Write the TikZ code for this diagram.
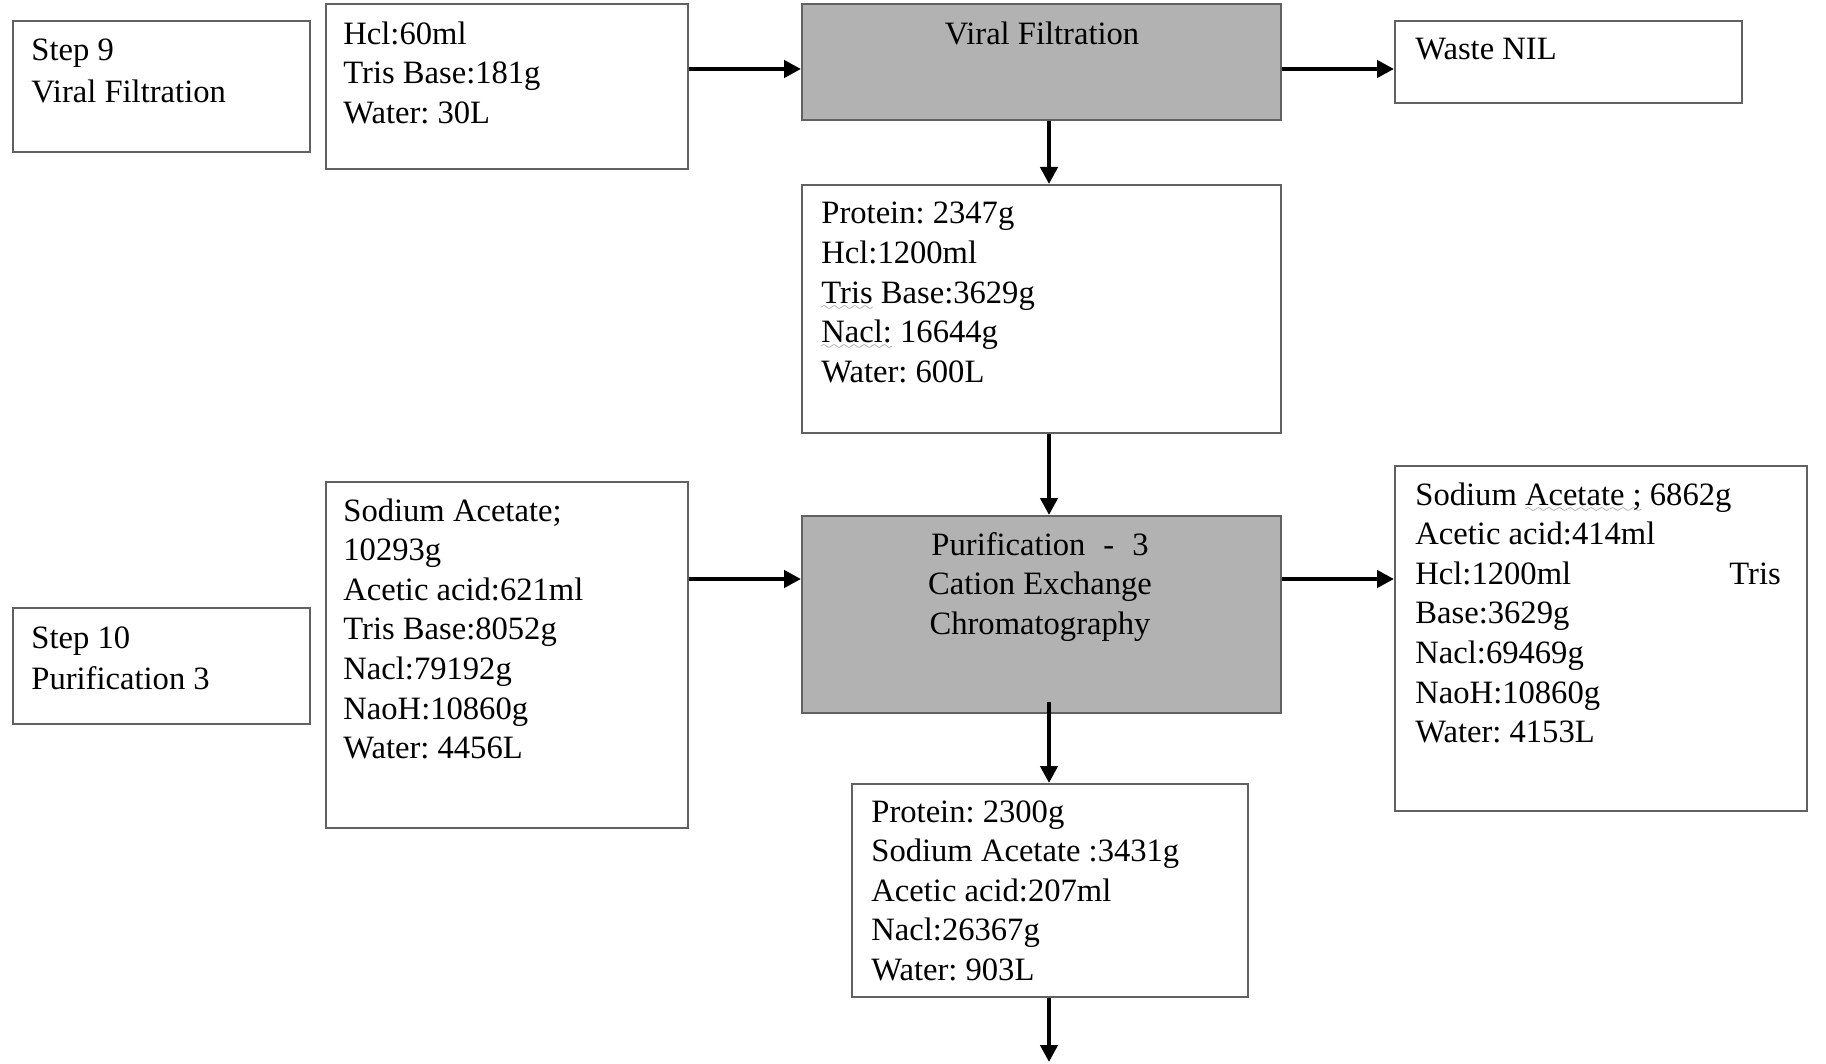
\documentclass[tikz,border=0pt]{standalone}
\usepackage{fontspec}
\setmainfont{Liberation Serif}
\usetikzlibrary{arrows.meta}
% light wavy underline (spell-check mark)
\font\sixlyfont=lasy6
\newcommand\squig[1]{\setbox0\hbox{#1}\rlap{\lower3.5pt\hbox to\wd0{\color{black!45}\xleaders\hbox{\sixlyfont\char58}\hfil}}\box0\relax}
\newcommand\bodyfont{\fontsize{16.3}{19.8}\selectfont\frenchspacing}
\tikzset{
  box/.style={draw=black!62, line width=1pt, fill=white, inner sep=0pt, anchor=north west},
  proc/.style={box, fill=black!30},
  txt/.style={inner sep=0pt, anchor=north west, align=left, font=\bodyfont},
  ctxt/.style={inner sep=0pt, anchor=north, align=center, font=\bodyfont},
  flow/.style={line width=2.2pt, -{Triangle[length=8.5pt,width=8.5pt]}},
}
\begin{document}
\begin{tikzpicture}[x=0.5pt, y=-0.5pt]
\fill[white] (0,0) rectangle (1826,1064);
\path[use as bounding box] (0,0) rectangle (1826,1064);

% boxes
\node[box, minimum width=148.5pt, minimum height=65.5pt] (s9) at (12,20) {};
\node[box, minimum width=181pt, minimum height=82.5pt] (in1) at (325,3) {};
\node[proc, minimum width=239.5pt, minimum height=58pt] (vf) at (801,3) {};
\node[box, minimum width=173.5pt, minimum height=41pt] (waste) at (1394,20) {};
\node[box, minimum width=239.5pt, minimum height=124pt] (prot) at (801,184) {};
\node[box, minimum width=148.5pt, minimum height=58pt] (s10) at (12,607) {};
\node[box, minimum width=181pt, minimum height=173pt] (in2) at (325,481) {};
\node[proc, minimum width=239.5pt, minimum height=98.5pt] (pur) at (801,515) {};
\node[box, minimum width=206pt, minimum height=172.5pt] (out) at (1394,465) {};
\node[box, minimum width=198pt, minimum height=106.5pt] (bot) at (851,783) {};

% texts
\node[txt] (t-s9) at (31,39) {Step 9\\[1pt]Viral Filtration};
\node[txt] (t-in1) at (343,21) {Hcl:60ml\\Tris Base:181g\\Water: 30L};
\node[ctxt] (t-vf) at (1042,21) {Viral Filtration};
\node[txt] (t-waste) at (1415,38) {Waste NIL};
\node[txt] (t-prot) at (821,202) {Protein: 2347g\\Hcl:1200ml\\\squig{Tris} Base:3629g\\\squig{Nacl:} 16644g\\Water: 600L};
\node[txt] (t-s10) at (31,626) {Step 10\\[1pt]Purification 3};
\node[txt] (t-in2) at (343,498) {Sodium Acetate;\\10293g\\Acetic acid:621ml\\Tris Base:8052g\\Nacl:79192g\\NaoH:10860g\\Water: 4456L};
\node[ctxt] (t-pur) at (1040,532) {Purification\hspace{9pt}-\hspace{9pt}3\\Cation Exchange\\Chromatography};
\node[txt] (t-out) at (1415,482) {Sodium \squig{Acetate ;} 6862g\\Acetic acid:414ml\\\makebox[157pt][l]{Hcl:1200ml}Tris\\Base:3629g\\Nacl:69469g\\NaoH:10860g\\Water: 4153L};
\node[txt] (t-bot) at (871,800) {Protein: 2300g\\Sodium Acetate :3431g\\Acetic acid:207ml\\Nacl:26367g\\Water: 903L};

% connector guides
\coordinate (r1) at (0,69);
\coordinate (r2) at (0,579);
\coordinate (cx) at (1049,0);
\coordinate (end) at (1049,1062);

% connectors
\draw[flow] (in1.east |- r1) -- (vf.west |- r1);
\draw[flow] (vf.east |- r1) -- (waste.west |- r1);
\draw[flow] (vf.south -| cx) -- (prot.north -| cx);
\draw[flow] (prot.south -| cx) -- (pur.north -| cx);
\draw[flow] (in2.east |- r2) -- (pur.west |- r2);
\draw[flow] (pur.east |- r2) -- (out.west |- r2);
\draw[flow] ([yshift=6pt]pur.south -| cx) -- (bot.north -| cx);
\draw[flow] (bot.south -| cx) -- (end);
\end{tikzpicture}
\end{document}
